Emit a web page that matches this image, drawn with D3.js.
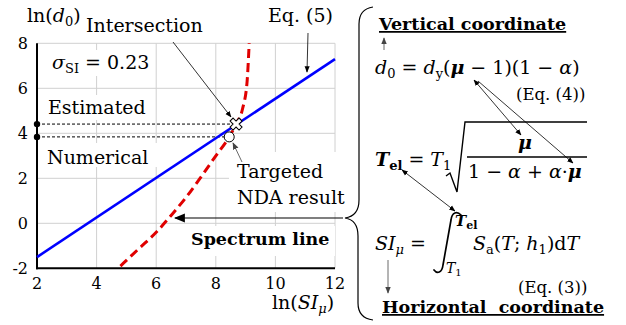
<!DOCTYPE html>
<html><head><meta charset="utf-8">
<script src="https://cdn.jsdelivr.net/npm/d3@7"></script>
<style>
html,body{margin:0;padding:0;background:#fff;}
svg{display:block;font-family:"DejaVu Serif",serif;}
</style></head>
<body><svg id="c" width="626" height="325"></svg>
<script>
// ---- data ----
const xTicks = [2, 4, 6, 8, 10, 12];
const yTicks = [-2, 0, 2, 4, 6, 8];
const eq5X = [2, 12];
const eq5Y = [-1.5, 7.3];
const spectrumX = [4.8, 5.4, 6.0, 6.5, 7.0, 7.5, 8.0, 8.45, 8.68, 8.9, 9.05, 9.12];
const spectrumY = [-1.9, -1.15, -0.4, 0.35, 1.15, 2.05, 3.0, 3.84, 4.41, 5.1, 6.3, 8.0];
const estimatedPt = [8.68, 4.41];
const numericalPt = [8.45, 3.84];
const sigmaLabel = "0.23";

const svg = d3.select("#c");
const x = d3.scaleLinear().domain([2, 12]).range([37, 335]);
const y = d3.scaleLinear().domain([-2, 8]).range([268.3, 43.3]);

// arrow markers
const defs = svg.append("defs");
function mk(id, color, w) {
  defs.append("marker").attr("id", id).attr("viewBox", "0 0 10 10")
    .attr("refX", 9).attr("refY", 5).attr("markerWidth", w).attr("markerHeight", w)
    .attr("orient", "auto-start-reverse")
    .append("path").attr("d", "M0,1 L10,5 L0,9 Z").attr("fill", color);
}
mk("ah", "#000", 8);
mk("ahs", "#000", 10);
mk("ahg", "#444", 9);

// grid
const g = svg.append("g");
g.selectAll(".gx").data(xTicks.slice(1)).join("line")
  .attr("x1", d => x(d)).attr("x2", d => x(d)).attr("y1", y(-2)).attr("y2", y(8))
  .attr("stroke", "#d0d0d0").attr("stroke-width", 1);
g.selectAll(".gy").data(yTicks.slice(1)).join("line")
  .attr("y1", d => y(d)).attr("y2", d => y(d)).attr("x1", x(2)).attr("x2", x(12))
  .attr("stroke", "#d0d0d0").attr("stroke-width", 1);

// white label backgrounds inside plot
const boxes = [[44, 50, 108, 26], [44, 95, 110, 25], [44, 143, 116, 24], [229, 152, 110, 60], [183, 226, 152, 30]];
g.selectAll(".bx").data(boxes).join("rect")
  .attr("x", d => d[0]).attr("y", d => d[1]).attr("width", d => d[2]).attr("height", d => d[3])
  .attr("fill", "#fff");

// axes lines
g.append("line").attr("x1", x(2)).attr("x2", x(2)).attr("y1", y(8)).attr("y2", y(-2) + 1)
  .attr("stroke", "#000").attr("stroke-width", 2);
g.append("line").attr("x1", x(2) - 1).attr("x2", x(12)).attr("y1", y(-2)).attr("y2", y(-2))
  .attr("stroke", "#000").attr("stroke-width", 2);

// tick labels
g.selectAll(".tx").data(xTicks).join("text")
  .attr("x", d => x(d)).attr("y", 289).attr("text-anchor", "middle")
  .attr("font-size", 16).text(d => d);
g.selectAll(".ty").data(yTicks).join("text")
  .attr("x", 28).attr("y", d => y(d) + 6).attr("text-anchor", "end")
  .attr("font-size", 16).text(d => d);

// axis titles
const yl = svg.append("text").attr("x", 27).attr("y", 22).attr("font-size", 19);
yl.append("tspan").text("ln(");
yl.append("tspan").attr("font-style", "italic").text("d");
yl.append("tspan").attr("font-size", 13).attr("dy", 4).text("0");
yl.append("tspan").attr("dy", -4).text(")");
const xl = svg.append("text").attr("x", 272).attr("y", 309).attr("font-size", 19);
xl.append("tspan").text("ln(");
xl.append("tspan").attr("font-style", "italic").text("SI");
xl.append("tspan").attr("font-style", "italic").attr("font-size", 13).attr("dy", 4).text("μ");
xl.append("tspan").attr("dy", -4).text(")");

// dashed reference lines
[estimatedPt, numericalPt].forEach(p => {
  g.append("line").attr("x1", x(2)).attr("x2", x(p[0])).attr("y1", y(p[1])).attr("y2", y(p[1]))
    .attr("stroke", "#000").attr("stroke-width", 1).attr("stroke-dasharray", "3,2");
  g.append("circle").attr("cx", x(2)).attr("cy", y(p[1])).attr("r", 3.2).attr("fill", "#000");
});

// Eq.(5) line
g.append("line").attr("x1", x(eq5X[0])).attr("y1", y(eq5Y[0])).attr("x2", x(eq5X[1])).attr("y2", y(eq5Y[1]))
  .attr("stroke", "#0000ff").attr("stroke-width", 2.6);

// spectrum curve
const line = d3.line().x(d => x(d[0])).y(d => y(d[1])).curve(d3.curveMonotoneX);
g.append("path").datum(spectrumX.map((v, i) => [v, spectrumY[i]]))
  .attr("d", line).attr("fill", "none").attr("stroke", "#e00000")
  .attr("stroke-width", 3).attr("stroke-dasharray", "9,5");

// markers
g.append("path").attr("d", d3.symbol(d3.symbolCross, 90)())
  .attr("transform", `translate(${x(estimatedPt[0])},${y(estimatedPt[1])}) rotate(45)`)
  .attr("fill", "#fff").attr("stroke", "#000").attr("stroke-width", 1);
g.append("circle").attr("cx", x(numericalPt[0])).attr("cy", y(numericalPt[1])).attr("r", 5)
  .attr("fill", "#fff").attr("stroke", "#000").attr("stroke-width", 1);

// in-plot labels
const sg = svg.append("text").attr("x", 52).attr("y", 69).attr("font-size", 19);
sg.append("tspan").attr("font-style", "italic").text("σ");
sg.append("tspan").attr("font-size", 13).attr("dy", 4).text("SI");
sg.append("tspan").attr("dy", -4).text(" = " + sigmaLabel);
svg.append("text").attr("x", 48).attr("y", 114).attr("font-size", 19).text("Estimated");
svg.append("text").attr("x", 47).attr("y", 164).attr("font-size", 19).text("Numerical");
svg.append("text").attr("x", 86).attr("y", 32).attr("font-size", 19).text("Intersection");
svg.append("text").attr("x", 268).attr("y", 22).attr("font-size", 19).text("Eq. (5)");
svg.append("text").attr("x", 237).attr("y", 178).attr("font-size", 19).text("Targeted");
svg.append("text").attr("x", 237).attr("y", 204).attr("font-size", 19).text("NDA result");
svg.append("text").attr("x", 191).attr("y", 245).attr("font-size", 17.5).attr("font-weight", "bold").text("Spectrum line");

// annotation arrows
function arrow(x1, y1, x2, y2, opt = {}) {
  const l = svg.append("line").attr("x1", x1).attr("y1", y1).attr("x2", x2).attr("y2", y2)
    .attr("stroke", opt.color || "#000").attr("stroke-width", opt.w || 0.8)
    .attr("marker-end", `url(#${opt.m || "ah"})`);
  if (opt.both) l.attr("marker-start", `url(#${opt.m || "ah"})`);
  return l;
}
arrow(173, 42, 231, 117);
arrow(308, 33, 307, 72);
arrow(242, 162, 233, 143, { color: "#444", m: "ahg" });
arrow(343, 218, 175, 218, { w: 1.1, m: "ahs" });

// brace
svg.append("path")
  .attr("d", "M373,7 Q359,9 359,24 L359,200 Q359,216 345,218 Q358,220 358,236 L358,303 Q358,318 373,320")
  .attr("fill", "none").attr("stroke", "#000").attr("stroke-width", 1.2);

// right side text
svg.append("text").attr("x", 379).attr("y", 30).attr("font-size", 17.5).attr("font-weight", "bold")
  .attr("text-decoration", "underline").text("Vertical coordinate");
arrow(384, 50, 384, 38, { color: "#444", m: "ahg" });

const f1 = svg.append("text").attr("x", 375).attr("y", 74).attr("font-size", 19);
f1.append("tspan").attr("font-style", "italic").text("d");
f1.append("tspan").attr("font-size", 13).attr("dy", 4).text("0");
f1.append("tspan").attr("dy", -4).text(" = ");
f1.append("tspan").attr("font-style", "italic").text("d");
f1.append("tspan").attr("font-size", 13).attr("dy", 4).text("y");
f1.append("tspan").attr("dy", -4).text("(");
f1.append("tspan").attr("font-style", "italic").attr("font-weight", "bold").text("μ");
f1.append("tspan").text(" − 1)(1 − ");
f1.append("tspan").attr("font-style", "italic").text("α");
f1.append("tspan").text(")");
svg.append("text").attr("x", 516).attr("y", 100).attr("font-size", 16.5).text("(Eq. (4))");

const f2 = svg.append("text").attr("x", 375).attr("y", 166).attr("font-size", 19);
f2.append("tspan").attr("font-style", "italic").attr("font-weight", "bold").text("T");
f2.append("tspan").attr("font-weight", "bold").attr("font-size", 13).attr("dy", 4).text("el");
f2.append("tspan").attr("dy", -4).text(" = ");
f2.append("tspan").attr("font-style", "italic").text("T");
f2.append("tspan").attr("font-size", 13).attr("dy", 4).text("1");
svg.append("path").attr("d", "M446,176 L450,173 L457,192 L465,122 L587,122")
  .attr("fill", "none").attr("stroke", "#000").attr("stroke-width", 1.4);
svg.append("line").attr("x1", 467).attr("x2", 587).attr("y1", 157).attr("y2", 157)
  .attr("stroke", "#000").attr("stroke-width", 1.6);
svg.append("text").attr("x", 525).attr("y", 149).attr("text-anchor", "middle").attr("font-size", 19)
  .attr("font-style", "italic").attr("font-weight", "bold").text("μ");
const f3 = svg.append("text").attr("x", 468).attr("y", 178).attr("font-size", 19);
f3.append("tspan").text("1 − ");
f3.append("tspan").attr("font-style", "italic").text("α");
f3.append("tspan").text(" + ");
f3.append("tspan").attr("font-style", "italic").text("α");
f3.append("tspan").text("·");
f3.append("tspan").attr("font-style", "italic").attr("font-weight", "bold").text("μ");

arrow(474, 80, 521, 135, { w: 0.8, both: true });
arrow(478, 81, 573, 163, { w: 0.8 });
arrow(402, 170, 455, 211, { w: 0.8, both: true });

const f4 = svg.append("text").attr("x", 375).attr("y", 250).attr("font-size", 19);
f4.append("tspan").attr("font-style", "italic").text("SI");
f4.append("tspan").attr("font-style", "italic").attr("font-size", 13).attr("dy", 4).text("μ");
f4.append("tspan").attr("dy", -4).text(" =");
// integral sign drawn as a stroke
svg.append("path")
  .attr("d", "M461,215 C457,211 452,212 451,220 L443,265 C442,273 437,274 434,270")
  .attr("fill", "none").attr("stroke", "#000").attr("stroke-width", 1.7).attr("stroke-linecap", "round");
const ul = svg.append("text").attr("x", 455).attr("y", 226).attr("font-size", 15);
ul.append("tspan").attr("font-style", "italic").attr("font-weight", "bold").text("T");
ul.append("tspan").attr("font-weight", "bold").attr("font-size", 11).attr("dy", 3).text("el");
const ll = svg.append("text").attr("x", 446).attr("y", 273).attr("font-size", 14);
ll.append("tspan").attr("font-style", "italic").text("T");
ll.append("tspan").attr("font-size", 10).attr("dy", 3).text("1");
const f5 = svg.append("text").attr("x", 473).attr("y", 250).attr("font-size", 19);
f5.append("tspan").attr("font-style", "italic").text("S");
f5.append("tspan").attr("font-size", 13).attr("dy", 4).text("a");
f5.append("tspan").attr("dy", -4).text("(");
f5.append("tspan").attr("font-style", "italic").text("T");
f5.append("tspan").text("; ");
f5.append("tspan").attr("font-style", "italic").text("h");
f5.append("tspan").attr("font-size", 13).attr("dy", 4).text("1");
f5.append("tspan").attr("dy", -4).text(")d");
f5.append("tspan").attr("font-style", "italic").text("T");
svg.append("text").attr("x", 518).attr("y", 293).attr("font-size", 16.5).text("(Eq. (3))");
arrow(388, 260, 388, 293, { color: "#444", m: "ahg" });
svg.append("text").attr("x", 382).attr("y", 313).attr("font-size", 17.5).attr("font-weight", "bold")
  .attr("text-decoration", "underline").attr("xml:space", "preserve").style("white-space", "pre")
  .text("Horizontal  coordinate");
</script></body></html>
